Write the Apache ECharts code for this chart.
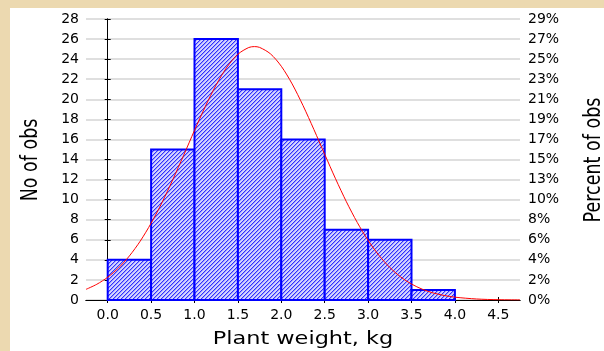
<!DOCTYPE html>
<html>
<head>
<meta charset="utf-8">
<script src="https://cdn.jsdelivr.net/npm/echarts@6/dist/echarts.min.js"></script>
<style>
  html, body { margin: 0; padding: 0; width: 604px; height: 351px; overflow: hidden;
    background: #ecd9b0; }
  #panel { position: absolute; left: 10px; top: 8px; width: 594px; height: 343px; background: #ffffff; }
  #chart { position: absolute; left: 0; top: 0; width: 604px; height: 351px; }
</style>
</head>
<body>
<div id="panel"></div>
<div id="chart"></div>
<script>
// ---- data ----
const binStart = [0.0, 0.5, 1.0, 1.5, 2.0, 2.5, 3.0, 3.5];
const binEnd   = [0.5, 1.0, 1.5, 2.0, 2.5, 3.0, 3.5, 4.0];
const counts   = [4, 15, 26, 21, 16, 7, 6, 1];

const curveX = [-0.25, -0.125, 0.0, 0.125, 0.25, 0.375, 0.5, 0.625, 0.75, 0.875, 1.0, 1.125, 1.25, 1.375, 1.5, 1.625, 1.69, 1.75, 1.875,
                2.0, 2.125, 2.25, 2.375, 2.5, 2.625, 2.75, 2.875, 3.0, 3.125, 3.25, 3.375, 3.5, 3.625, 3.75, 3.875, 4.0, 4.25, 4.5, 4.75];
const curveY = [1.06, 1.57, 2.27, 3.20, 4.39, 5.87, 7.65, 9.70, 11.99, 14.42, 16.90, 19.29, 21.44, 23.22, 24.49, 25.16, 25.25, 25.17, 24.53,
                23.29, 21.53, 19.38, 17.00, 14.52, 12.08, 9.79, 7.73, 5.94, 4.45, 3.24, 2.30, 1.59, 1.07, 0.70, 0.45, 0.28, 0.10, 0.03, 0.01];

const xTickValues = [0.0, 0.5, 1.0, 1.5, 2.0, 2.5, 3.0, 3.5, 4.0, 4.5];
const xTickLabels = ['0.0', '0.5', '1.0', '1.5', '2.0', '2.5', '3.0', '3.5', '4.0', '4.5'];
const yLeftLabels = ['0', '2', '4', '6', '8', '10', '12', '14', '16', '18', '20', '22', '24', '26', '28'];
const yRightLabels = ['0%', '2%', '4%', '6%', '8%', '10%', '13%', '15%', '17%', '19%', '21%', '23%', '25%', '27%', '29%'];

const xTitle = 'Plant weight, kg';
const yLeftTitle = 'No of obs';
const yRightTitle = 'Percent of obs';

// ---- hatch pattern ----
const tile = document.createElement('canvas');
tile.width = 4; tile.height = 4;
const tc = tile.getContext('2d');
tc.fillStyle = '#d4d4ff';
tc.fillRect(0, 0, 4, 4);
for (let i = 0; i < 4; i++) {
  tc.fillStyle = '#3030ff';
  tc.fillRect(3 - i, i, 1, 1);
  tc.fillStyle = '#9c9cff';
  tc.fillRect((4 - i) % 4, i, 1, 1);
}
const hatch = { image: tile, repeat: 'repeat' };

const histData = binStart.map((s, i) => [s, binEnd[i], counts[i]]);
const curveData = curveX.map((x, i) => [x, curveY[i]]);

const FONT = 'DejaVu Sans';
const chart = echarts.init(document.getElementById('chart'), null, { renderer: 'canvas' });

chart.setOption({
  backgroundColor: 'transparent',
  animation: false,
  grid: { left: 86, top: 19, width: 434, height: 281, containLabel: false },
  xAxis: [{
    type: 'value', min: -0.25, max: 4.75, position: 'bottom',
    axisLine: { show: true, lineStyle: { color: '#000', width: 1 } },
    axisTick: { show: true, inside: true, length: 3, customValues: xTickValues, lineStyle: { color: '#000' } },
    axisLabel: { show: true, customValues: xTickValues, margin: 8, color: '#000', fontFamily: FONT, fontSize: 14,
      formatter: (v) => xTickLabels[xTickValues.indexOf(v)] },
    splitLine: { show: false }
  }, {
    type: 'value', min: -0.25, max: 4.75, position: 'top',
    axisLine: { show: true, lineStyle: { color: '#000', width: 1 } },
    axisTick: { show: true, inside: true, length: 3, customValues: xTickValues, lineStyle: { color: '#000' } },
    axisLabel: { show: false },
    splitLine: { show: false }
  }],
  yAxis: [{
    type: 'value', min: 0, max: 28, interval: 2, position: 'left',
    axisLine: { show: true, lineStyle: { color: '#000', width: 1 } },
    axisTick: { show: true, inside: true, length: 3, lineStyle: { color: '#000' } },
    axisLabel: { margin: 7, color: '#000', fontFamily: FONT, fontSize: 14,
      formatter: (v, i) => yLeftLabels[i] },
    splitLine: { show: true, lineStyle: { color: '#d4d4d4', width: 1.5 } }
  }, {
    type: 'value', min: 0, max: 28, interval: 2, position: 'right',
    axisLine: { show: true, lineStyle: { color: '#000', width: 1 } },
    axisTick: { show: true, inside: true, length: 3, lineStyle: { color: '#000' } },
    axisLabel: { margin: 8, color: '#000', fontFamily: FONT, fontSize: 14,
      formatter: (v, i) => yRightLabels[i] },
    splitLine: { show: false }
  }],
  series: [{
    type: 'custom',
    xAxisIndex: 0, yAxisIndex: 0,
    data: histData,
    z: 2,
    renderItem: function (params, api) {
      const p0 = api.coord([api.value(0), 0]);
      const p1 = api.coord([api.value(1), api.value(2)]);
      return {
        type: 'rect',
        shape: { x: p0[0], y: p1[1], width: p1[0] - p0[0], height: p0[1] - p1[1] },
        style: { fill: hatch, stroke: '#0000ff', lineWidth: 2 }
      };
    }
  }, {
    type: 'line',
    xAxisIndex: 0, yAxisIndex: 0,
    data: curveData,
    smooth: 0.3,
    symbol: 'none',
    z: 3,
    lineStyle: { color: '#ff0000', width: 1 }
  }],
  graphic: [{
    type: 'text', x: 303, y: 339, scaleX: 1.28,
    style: { text: xTitle, font: '17.5px "' + FONT + '"', fill: '#000', align: 'center', verticalAlign: 'middle' }
  }, {
    type: 'text', x: 31, y: 160, rotation: Math.PI / 2, scaleY: 1.3,
    style: { text: yLeftTitle, font: '17.5px "' + FONT + '"', fill: '#000', align: 'center', verticalAlign: 'middle' }
  }, {
    type: 'text', x: 594, y: 160, rotation: Math.PI / 2, scaleY: 1.3,
    style: { text: yRightTitle, font: '17.5px "' + FONT + '"', fill: '#000', align: 'center', verticalAlign: 'middle' }
  }]
});
</script>
</body>
</html>
